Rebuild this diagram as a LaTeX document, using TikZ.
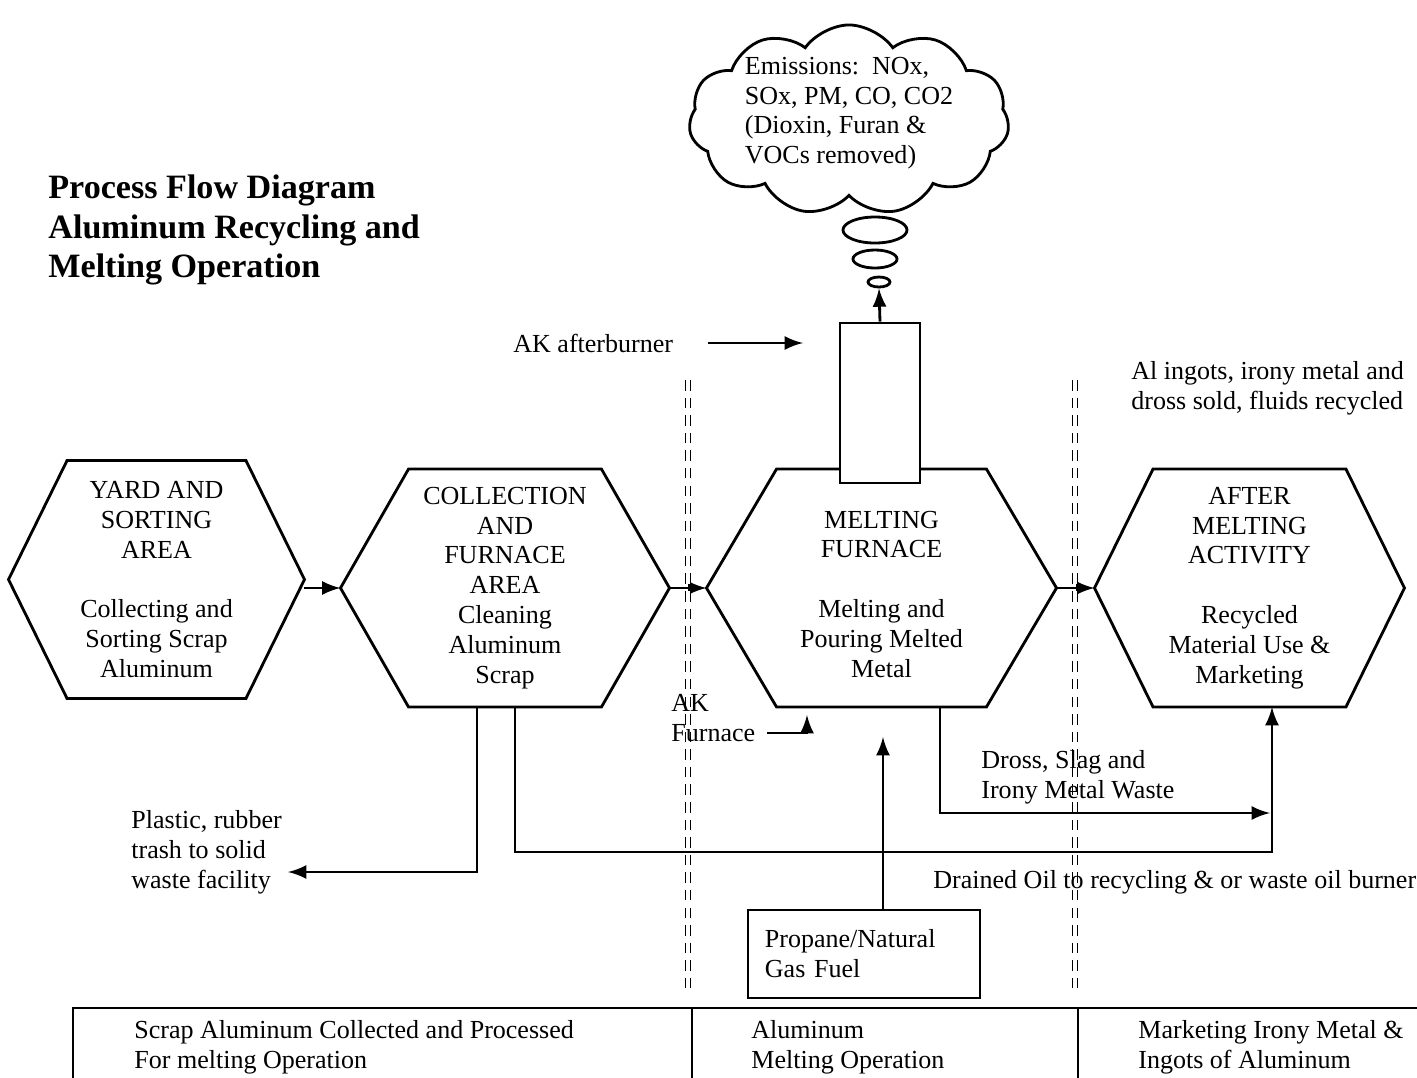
\documentclass[tikz,border=0pt]{standalone}
\usepackage{fontspec}
\setmainfont{Liberation Serif}
\usetikzlibrary{shapes}
\newcommand{\txtfont}{\fontsize{7.4pt}{8.5pt}\selectfont}

\begin{document}
\begin{tikzpicture}[x=0.01cm, y=-0.01cm, >=latex, line width=0.8pt, font=\txtfont,
    hexbox/.style={rectangle, inner sep=0pt, align=center, minimum height=2.35cm},
    lbl/.style={inner sep=0pt, anchor=west, align=left},
    puff/.style={draw, ellipse, inner sep=0pt},
    divider/.style={double, double distance=1pt, line width=0.45pt, densely dashed}]
        \useasboundingbox (0,0) rectangle (1417,1078);

        % --- TITLE ---
        \node[lbl, font=\fontsize{9.7pt}{11.3pt}\selectfont\bfseries] (title) at (47,230)
            {Process Flow Diagram\\Aluminum Recycling and\\Melting Operation};

        % --- PROCESS STEPS ---
        \node[hexbox, minimum width=2.93cm] (yard) at (156.5,579.5)
            {YARD AND\\SORTING\\AREA\\[8.5pt]Collecting and\\Sorting Scrap\\Aluminum};
        \node[hexbox, minimum width=3.26cm] (coll) at (505,588)
            {COLLECTION\\AND\\FURNACE\\AREA\\Cleaning\\Aluminum\\Scrap};
        \node[hexbox, minimum width=3.47cm] (melt) at (881.5,588)
            {\mbox{}\\MELTING\\FURNACE\\[8.5pt]Melting and\\Pouring Melted\\Metal};
        \node[hexbox, minimum width=3.07cm] (after) at (1249.5,588)
            {AFTER\\MELTING\\ACTIVITY\\[8.5pt]Recycled\\Material Use \&\\Marketing};

        % hexagon outlines
        \foreach \n/\d in {yard/0.585cm, coll/0.68cm, melt/0.70cm, after/0.585cm}
            \draw (\n.west) -- ([xshift=\d]\n.north west) -- ([xshift=-\d]\n.north east)
                -- (\n.east) -- ([xshift=-\d]\n.south east) -- ([xshift=\d]\n.south west) -- cycle;

        \draw[->] (yard.east |- coll.west) -- (coll.west);
        \draw[->] (coll.east) -- (melt.west);
        \draw[->] (melt.east) -- (after.west);

        % --- STACK AND EMISSIONS ---
        \node[draw, fill=white, minimum width=0.8cm, minimum height=1.6cm] (stack) at (880,403) {};
        \node[puff, minimum width=0.22cm, minimum height=0.1cm] (puffa) at (879,282) {};
        \node[puff, minimum width=0.44cm, minimum height=0.18cm] (puffb) at (875,259) {};
        \node[puff, minimum width=0.64cm, minimum height=0.26cm] (puffc) at (875,230) {};
        \node[draw, cloud, cloud puffs=11, cloud puff arc=110, cloud ignores aspect,
              minimum width=3.2cm, minimum height=1.9cm, inner xsep=0pt, inner ysep=-9pt, align=left] (emis) at (849,120)
            {Emissions:~~NOx,\\SOx, PM, CO, CO2\\(Dioxin, Furan \&\\VOCs removed)\\[-3pt]\mbox{}};
        \draw[->] (stack.north) -- (puffa.south);

        \node[lbl] (aftburn) at (512,343) {AK afterburner};
        \coordinate (aftburntip) at (803,343);
        \draw[->, shorten <=0.33cm] (aftburn.east) -- (aftburntip);

        % --- AREA DIVIDERS ---
        \draw[divider] (688,380) -- (688,990);
        \draw[divider] (1075,380) -- (1075,990);

        % --- FURNACE INPUTS ---
        \node[lbl] (akfurn) at (670,718) {AK\\Furnace};
        \coordinate (akfurnin) at (767,733);
        \coordinate (akfurntip) at (807,715);
        \draw[->] (akfurnin) -| (akfurntip);

        \node[draw, inner xsep=0.17cm, text width=1.98cm, minimum height=0.88cm, align=left] (fuel) at (864,954)
            {Propane/Natural\\Gas Fuel};
        \coordinate (fueltip) at (883,737);
        \draw[->] (fueltip |- fuel.north) -- (fueltip);

        % --- OUTPUT STREAMS ---
        \node[lbl] (plastic) at (130,852) {Plastic, rubber\\trash to solid\\waste facility};
        \coordinate (plastictip) at (288,872);
        \draw[->] ([xshift=-0.28cm]coll.south) |- (plastictip);

        \coordinate (oilturn) at (1272,852);
        \draw[->] ([xshift=0.1cm]coll.south) -- ([xshift=0.1cm]coll.south |- oilturn) -- (oilturn)
            -- (oilturn |- after.south);
        \node[lbl] (oil) at (932,882) {Drained Oil to recycling \& or waste oil burner};

        \node[lbl] (dross) at (980,777) {Dross, Slag and\\Irony Metal Waste};
        \coordinate (drosstip) at (1270,813);
        \draw[->] ([xshift=0.585cm]melt.south) |- (drosstip);

        \node[lbl] (sold) at (1130,388) {Al ingots, irony metal and\\dross sold, fluids recycled};

        % --- OPERATION AREAS ---
        \draw (73,1078) -- (73,1008) -- (1417,1008);
        \draw (692,1008) -- (692,1078);
        \draw (1078,1008) -- (1078,1078);
        \node[lbl] (area1) at (133,1047) {Scrap Aluminum Collected and Processed\\For melting Operation};
        \node[lbl] (area2) at (750,1047) {Aluminum\\Melting Operation};
        \node[lbl] (area3) at (1137,1047) {Marketing Irony Metal \&\\Ingots of Aluminum};
\end{tikzpicture}
\end{document}
